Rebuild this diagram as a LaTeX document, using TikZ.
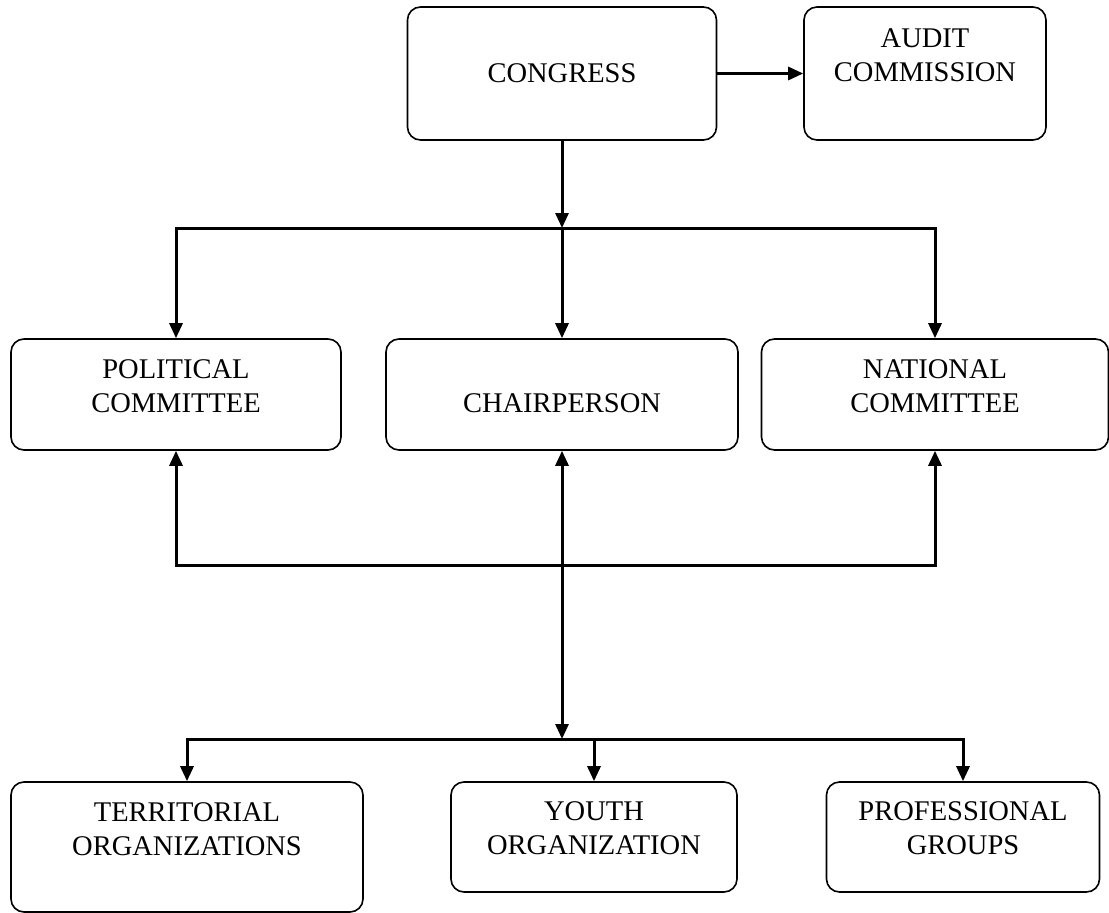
\documentclass[tikz,border=0pt]{standalone}
\usepackage{fontspec}
\setmainfont{Liberation Serif}
\usetikzlibrary{arrows.meta}

\begin{document}
\begin{tikzpicture}[x=1pt,y=-1pt,>={Triangle[length=15pt,width=13pt]},line width=3pt,
    org/.style={draw,rounded corners=13pt,line width=1.6pt,align=center,inner sep=0pt,
        font=\fontsize{28.5}{34}\selectfont}]

\useasboundingbox (0,0) rectangle (1109,913);

% top row
\node[org,minimum width=309pt,minimum height=133pt]                 (congress) at (562,73.5)  {CONGRESS};
\node[org,minimum width=242pt,minimum height=133pt,text depth=37pt] (audit)    at (925,73.5)  {AUDIT\\COMMISSION};

% middle row
\node[org,minimum width=330pt,minimum height=111pt,text depth=17pt]  (political) at (176,394.5) {POLITICAL\\COMMITTEE};
\node[org,minimum width=352pt,minimum height=111pt,text height=36pt] (chair)     at (562,394.5) {CHAIRPERSON};
\node[org,minimum width=347pt,minimum height=111pt,text depth=17pt]  (national)  at (935,394.5) {NATIONAL\\COMMITTEE};

% bottom row
\node[org,minimum width=352pt,minimum height=130pt,text depth=35pt] (territorial)  at (187,847) {TERRITORIAL\\ORGANIZATIONS};
\node[org,minimum width=286pt,minimum height=110pt,text depth=17pt] (youth)        at (594,837) {YOUTH\\ORGANIZATION};
\node[org,minimum width=273pt,minimum height=110pt,text depth=17pt] (professional) at (963,837) {PROFESSIONAL\\GROUPS};

\coordinate (j1) at (562,228);
\coordinate (j2) at (562,565);
\coordinate (j3) at (562,739);

\draw[->] (congress) -- (audit);
\draw[->] (congress) -- (j1);
\draw[->] (j1) -| (political);
\draw[->] (j1) -- (chair);
\draw[->] (j1) -| (national);

\draw[->] (j2) -| (political);
\draw[->] (j2) -| (national);
\draw[<->] (chair) -- (j3);

\draw[->] (j3) -| (territorial);
\draw[->] (youth.north |- j3) -- (youth);
\draw[->] (j3) -| (professional);
\end{tikzpicture}
\end{document}
